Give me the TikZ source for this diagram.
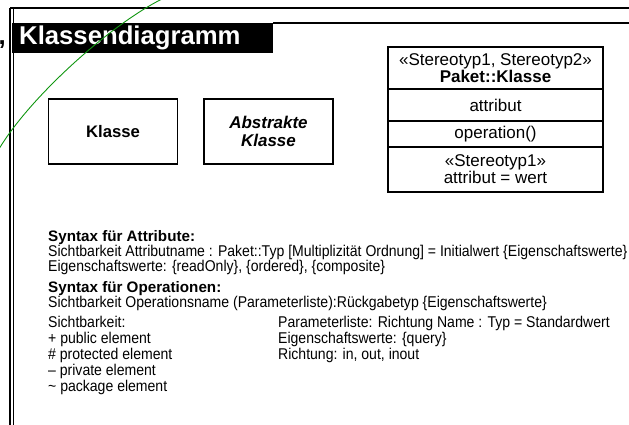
\documentclass[tikz,border=0pt]{standalone}
\usepackage{fontspec}
\setmainfont{Liberation Sans}
\newfontfamily\narrowfont[FakeStretch=0.9]{Liberation Sans}
\usepackage{tikz}
\usetikzlibrary{positioning}
\definecolor{markgreen}{RGB}{16,150,16}

\begin{document}
\begin{tikzpicture}[x=1pt,y=-1pt,
  umlbox/.style={draw,line width=1.8pt,minimum width=129pt,minimum height=65pt,
    inner sep=0pt,align=center,font=\fontsize{16.7}{18}\selectfont\bfseries},
  compart/.style={draw,line width=1.8pt,minimum width=215pt,inner sep=0pt,
    outer sep=0pt,align=center,font=\fontsize{17}{17}\selectfont},
  syntaxhead/.style={anchor=base west,inner sep=0pt,font=\fontsize{15.2}{16}\selectfont\bfseries},
  syntaxline/.style={anchor=base west,inner sep=0pt,font=\narrowfont\fontsize{15.6}{16}\selectfont}]
\useasboundingbox (0,0) rectangle (629,425);
% ---- slide frame and title bar -------------------------------------------
\draw[line width=2pt] (10,8) -- (10,425);
\draw[line width=0.9pt] (13.3,8) -- (13.3,425);
\draw[line width=1.2pt] (10,8) -- (629,8);
\fill (12,23) rectangle (273,53);
\draw[line width=1.2pt] (273,23) -- (629,23);
\node[anchor=base west,inner sep=0pt,text=white,
  font=\fontsize{25.7}{26}\selectfont\bfseries] (titel) at (19,45) {Klassendiagramm};
\node[anchor=base east,inner sep=0pt,
  font=\fontsize{25.7}{26}\selectfont\bfseries] (komma) at (6,45) {,};

% ---- the classes ----------------------------------------------------------
\node[umlbox] (klasse) at (113,131.5) {Klasse};
\node[umlbox,font=\fontsize{17}{18}\selectfont\bfseries\itshape] (abstrakt) at (268.5,131.5)
  {Abstrakte\\Klasse};
% full notation, one node per compartment
\node[compart,minimum height=42pt] (kopf) at (495.5,68)
  {«Stereotyp1, Stereotyp2»\\\textbf{Paket::Klasse}};
\node[compart,minimum height=32pt,below=0pt of kopf] (attr) {attribut};
\node[compart,minimum height=26pt,below=0pt of attr] (oper) {operation()};
\node[compart,minimum height=45pt,below=0pt of oper] (wert)
  {«Stereotyp1»\\attribut = wert};

% ---- syntax notes ---------------------------------------------------------
\node[syntaxhead] (attsyn) at (48,241) {Syntax für Attribute:};
\node[syntaxline] (attzeile) at (48,256)
  {Sichtbarkeit Attributname : Paket::Typ [Multiplizität Ordnung] = Initialwert \{Eigenschaftswerte\}};
\node[syntaxline] (atteig) at (48,271) {Eigenschaftswerte: \{readOnly\}, \{ordered\}, \{composite\}};
\node[syntaxhead] (opsyn) at (48,292) {Syntax für Operationen:};
\node[syntaxline] (opzeile) at (48,307)
  {Sichtbarkeit Operationsname (Parameterliste):Rückgabetyp \{Eigenschaftswerte\}};
% left column
\node[syntaxline] (sicht) at (48,327) {Sichtbarkeit:};
\node[syntaxline] (public) at (48,343) {+ public element};
\node[syntaxline] (protected) at (48,359) {\# protected element};
\node[syntaxline] (private) at (48,375) {– private element};
\node[syntaxline] (package) at (48,391) {\textasciitilde{} package element};
% right column
\node[syntaxline] (param) at (278,327) {Parameterliste: Richtung Name : Typ = Standardwert};
\node[syntaxline] (opeig) at (278,343) {Eigenschaftswerte: \{query\}};
\node[syntaxline] (richtung) at (278,359) {Richtung: in, out, inout};

% ---- green pen stroke over the corner -------------------------------------
\draw[markgreen,line width=0.9pt] (162,-1) .. controls (110,25) and (30,97) .. (-1,149);
\end{tikzpicture}
\end{document}
